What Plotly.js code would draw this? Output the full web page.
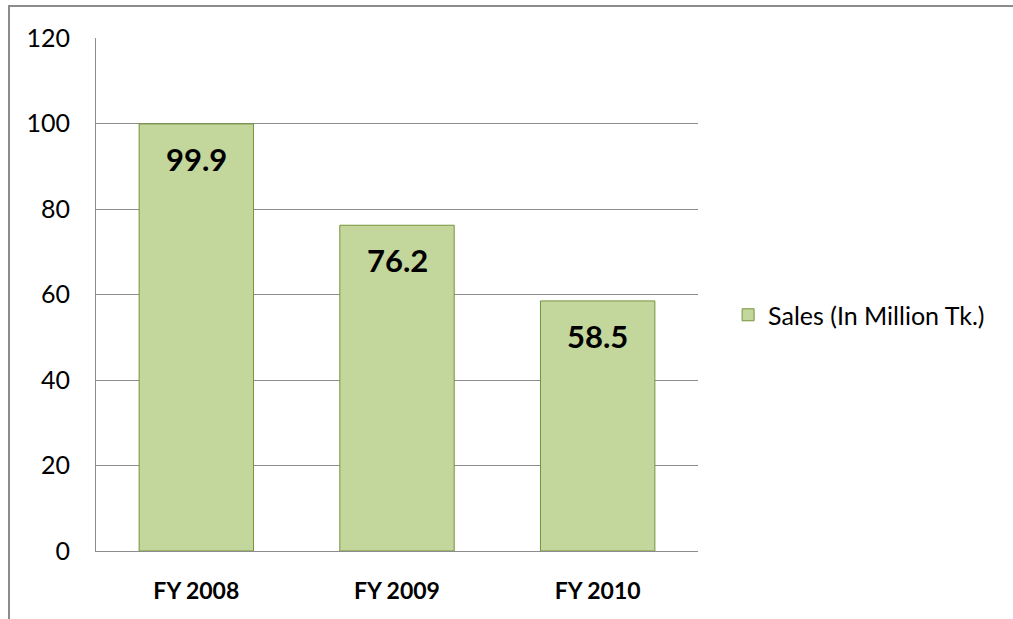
<!DOCTYPE html>
<html>
<head>
<meta charset="utf-8">
<script src="https://cdn.plot.ly/plotly-3.0.1.min.js"></script>
<style>
  html, body { margin: 0; padding: 0; background: #fff; }
  #frame { position: absolute; left: 8px; top: 5px; width: 1010px; height: 620px;
           border-left: 2px solid #8c8c8c; border-top: 2px solid #8c8c8c; box-sizing: border-box; }
  #chart { position: absolute; left: 0; top: 0; width: 1013px; height: 619px; }
</style>
</head>
<body>
<div id="frame"></div>
<div id="chart"></div>
<script>
const categories = ["FY 2008", "FY 2009", "FY 2010"];
const sales = [99.9, 76.2, 58.5];
const seriesName = "Sales (In Million Tk.)";
const yTicks = [0, 20, 40, 60, 80, 100, 120];

const FONT = "Lato, 'Open Sans', sans-serif";

const trace = {
  type: "bar",
  x: categories,
  y: sales,
  name: seriesName,
  showlegend: true,
  marker: { color: "#C3D69B", line: { color: "#77933C", width: 1 } },
  hoverinfo: "x+y"
};

const annotations = categories.map((c, i) => ({
  x: c, y: sales[i], xref: "x", yref: "y",
  text: "<b>" + sales[i].toFixed(1) + "</b>",
  showarrow: false, yanchor: "top", yshift: -14,
  font: { family: FONT, size: 31, color: "#000" }
}));

const layout = {
  width: 1013, height: 619,
  margin: { l: 96, r: 315, t: 38, b: 68 },
  paper_bgcolor: "rgba(0,0,0,0)",
  plot_bgcolor: "#fff",
  bargap: 0.43,
  font: { family: FONT, color: "#000" },
  xaxis: {
    type: "category",
    showline: true, linecolor: "#8c8c8c", linewidth: 1,
    showgrid: false, zeroline: false,
    ticks: "", ticklabelstandoff: 19,
    tickfont: { family: FONT, size: 23, weight: "bold", color: "#000" },
    fixedrange: true
  },
  yaxis: {
    range: [0, 120],
    tickvals: yTicks,
    ticktext: yTicks.map(String),
    showline: true, linecolor: "#8c8c8c", linewidth: 1,
    showgrid: true, gridcolor: "#8c8c8c", gridwidth: 1,
    zeroline: false,
    ticks: "", ticklabelstandoff: 20,
    tickfont: { family: FONT, size: 25, color: "#000" },
    fixedrange: true
  },
  legend: {
    x: 1.05, xanchor: "left", y: 0.46, yanchor: "middle",
    font: { family: FONT, size: 25, color: "#000" },
    bgcolor: "rgba(0,0,0,0)", itemwidth: 30
  },
  annotations: annotations
};

Plotly.newPlot("chart", [trace], layout, { displayModeBar: false, staticPlot: true });
</script>
</body>
</html>
